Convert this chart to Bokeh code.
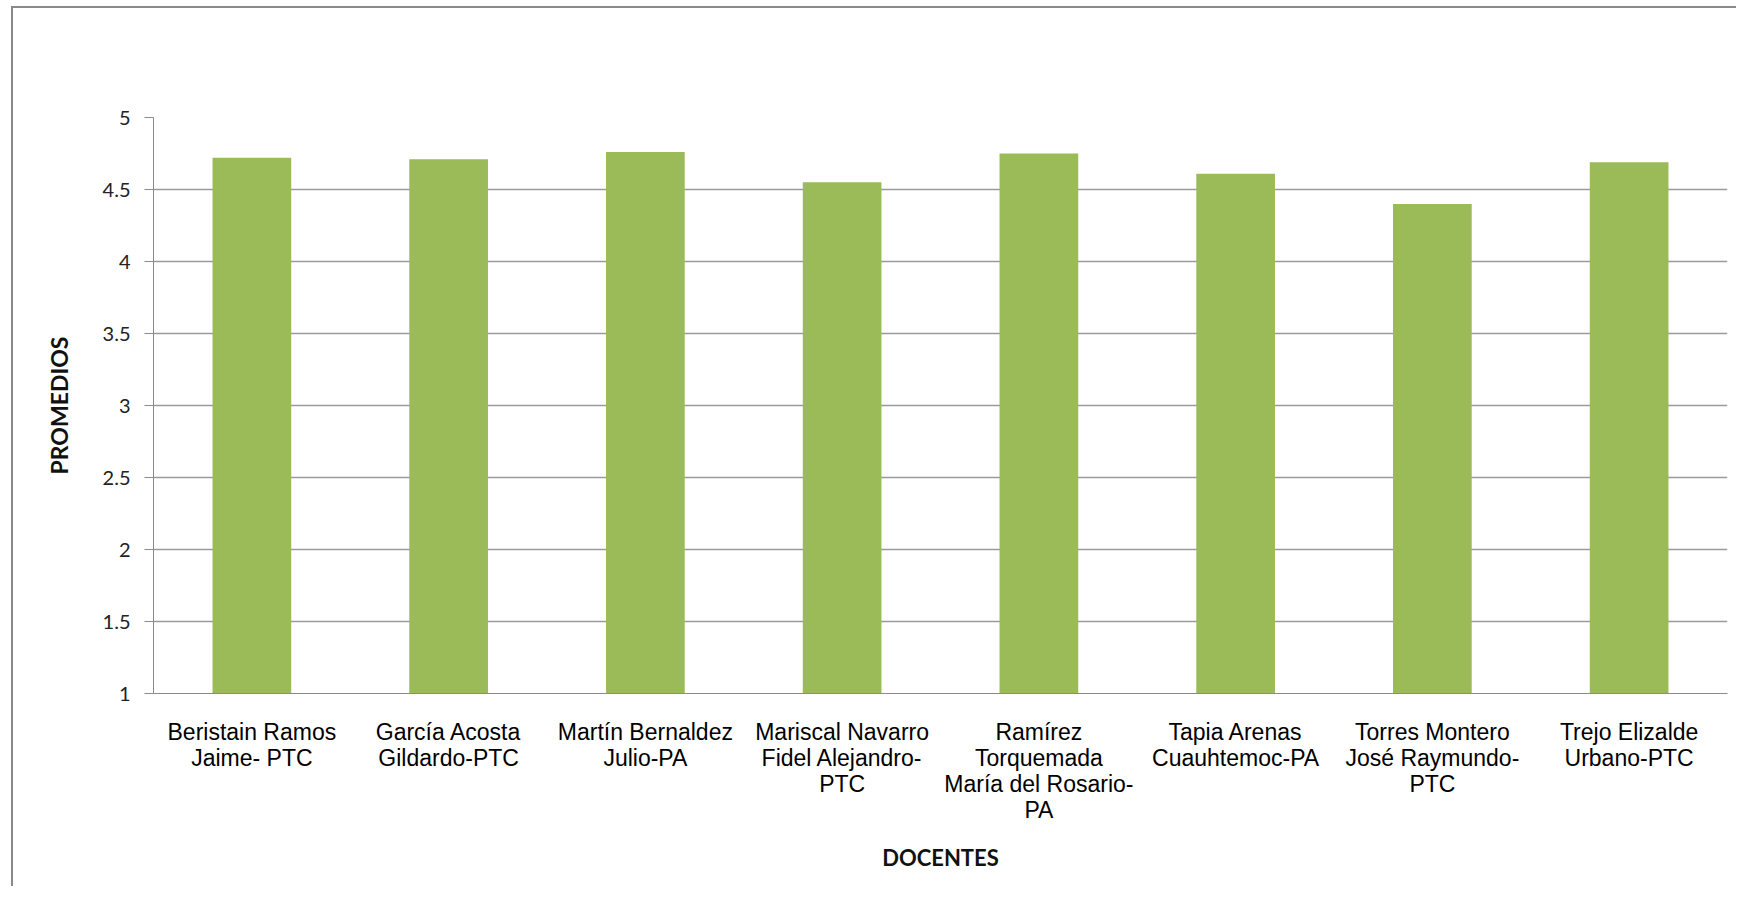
from bokeh.plotting import figure
from bokeh.models import Range1d, FixedTicker, ColumnDataSource
from bokeh.embed import file_html
from bokeh.resources import INLINE

docentes = [
    "Beristain Ramos\nJaime- PTC",
    "García Acosta\nGildardo-PTC",
    "Martín Bernaldez\nJulio-PA",
    "Mariscal Navarro\nFidel Alejandro-\nPTC",
    "Ramírez\nTorquemada\nMaría del Rosario-\nPA",
    "Tapia Arenas\nCuauhtemoc-PA",
    "Torres Montero\nJosé Raymundo-\nPTC",
    "Trejo Elizalde\nUrbano-PTC",
]
promedios = [4.72, 4.71, 4.76, 4.55, 4.75, 4.61, 4.40, 4.69]
y_ticks = [1, 1.5, 2, 2.5, 3, 3.5, 4, 4.5, 5]
y_tick_labels = ["1", "1.5", "2", "2.5", "3", "3.5", "4", "4.5", "5"]

src = ColumnDataSource(dict(docente=docentes, promedio=promedios))

p = figure(
    x_range=docentes, y_range=Range1d(1, 5),
    width=1725, height=880,
    output_backend="svg", toolbar_location=None,
)
p.margin = (6, 0, 0, 11)
p.styles = {"border-left": "2px solid #8a8a8a", "border-top": "2px solid #8a8a8a"}
p.min_border_left = 140
p.min_border_right = 11
p.min_border_top = 109
p.min_border_bottom = 195
p.outline_line_color = None
p.background_fill_color = "white"
p.border_fill_color = "white"

p.vbar(x="docente", top="promedio", bottom=1, width=0.4, source=src,
       fill_color="#9BBB59", line_color=None)

p.x_range.range_padding = 0

# y axis
p.yaxis.ticker = FixedTicker(ticks=y_ticks)
p.yaxis.major_label_overrides = {t: l for t, l in zip(y_ticks, y_tick_labels)}
p.yaxis.major_tick_out = 9
p.yaxis.major_tick_in = 0
p.yaxis.minor_tick_out = 0
p.yaxis.minor_tick_in = 0
p.yaxis.major_tick_line_color = "#8a8a8a"
p.yaxis.axis_line_color = "#8a8a8a"
p.yaxis.major_label_text_font = "Lato"
p.yaxis.major_label_text_font_size = "20px"
p.yaxis.major_label_text_color = "#222222"
p.yaxis.major_label_standoff = 14
p.yaxis.axis_label = "PROMEDIOS"
p.yaxis.axis_label_text_font = "Lato"
p.yaxis.axis_label_text_font_style = "bold"
p.yaxis.axis_label_text_font_size = "23px"
p.yaxis.axis_label_text_color = "#111111"
p.yaxis.axis_label_standoff = 27

# x axis
p.xaxis.major_tick_out = 0
p.xaxis.major_tick_in = 0
p.xaxis.axis_line_color = "#8a8a8a"
p.xaxis.major_label_text_font = "Liberation Sans"
p.xaxis.major_label_text_font_size = "23px"
p.xaxis.major_label_text_color = "#000000"
p.xaxis.major_label_text_line_height = 1.0
p.xaxis.major_label_standoff = 25
p.xaxis.major_label_orientation = "horizontal"
p.xaxis.axis_label = "DOCENTES"
p.xaxis.axis_label_text_font = "Lato"
p.xaxis.axis_label_text_font_style = "bold"
p.xaxis.axis_label_text_font_size = "22px"
p.xaxis.axis_label_text_color = "#111111"
p.xaxis.axis_label_standoff = 18

p.xgrid.grid_line_color = None
p.ygrid.grid_line_color = "#9a9a9a"
p.ygrid.grid_line_width = 1.3

open("out.html", "w").write(file_html(p, INLINE))
